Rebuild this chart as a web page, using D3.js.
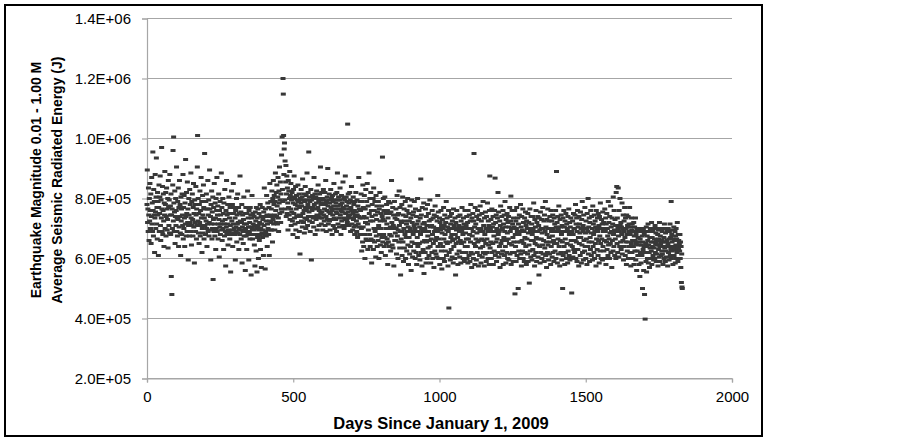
<!DOCTYPE html>
<html>
<head>
<meta charset="utf-8">
<script src="https://cdn.jsdelivr.net/npm/d3@7"></script>
<style>
  body { margin: 0; background: #fff; }
  svg { display: block; font-family: "Liberation Sans", Arial, sans-serif; }
</style>
</head>
<body>
<svg id="chart" width="902" height="440"></svg>
<script>
// energies in thousands of J, one value per day, split by year
var e2009 = [
  780,895,720,765,690,835,745,660,800,725,850,760,700,815,650,740,870,715,785,690,
  955,760,675,830,745,790,620,735,880,755,700,805,935,715,770,665,820,745,790,610,
  770,845,690,750,805,875,710,660,795,735,970,765,690,840,680,760,815,725,640,785,
  745,890,700,780,820,675,740,835,765,695,730,800,635,860,770,710,795,685,880,745,
  775,680,815,540,745,480,765,700,845,960,725,1005,785,690,755,825,650,740,800,710,
  760,905,690,735,675,790,730,835,640,770,705,860,740,780,685,610,805,725,765,680,
  815,745,710,880,665,770,700,810,735,640,785,715,930,740,675,820,750,690,855,720,
  765,595,710,800,745,675,830,720,780,690,885,735,645,790,710,815,730,675,770,850,
  705,750,585,795,720,780,690,840,745,665,765,710,905,1010,725,800,685,750,650,780,
  720,825,675,760,710,870,735,790,620,700,810,745,685,845,770,665,735,950,710,765,
  680,790,725,815,700,640,765,715,860,690,745,795,675,720,895,765,695,740,595,780,
  715,825,665,755,700,805,530,730,770,690,850,715,675,785,735,630,800,700,760,870,
  690,745,775,665,715,815,730,605,760,705,790,680,745,715,885,695,770,660,725,800,
  700,750,630,785,715,675,830,730,690,575,760,705,860,680,745,715,780,645,695,750,
  805,690,735,665,770,710,555,750,680,825,725,695,780,640,715,850,685,750,700,770,
  680,735,595,760,705,690,800,655,745,715,815,685,720,770,630,700,750,680,875,725,
  695,755,665,720,780,585,705,745,690,650,730,805,675,715,695,750,560,700,770,675,
  715,630,750,690,825,680,735,705,595,760,690,720,665,770,705,745,545,680,735,810,
  700,665,750,715,680
];
var e2010 = [
  695,740,645,710,575,755,680,725,625,770,700,555,735,670,765,710,600,695,750,660,
  720,680,780,630,700,740,570,715,685,770,670,730,695,610,755,710,835,680,740,565,
  765,690,725,675,810,745,640,715,785,700,740,680,770,610,725,850,745,695,790,720,
  765,695,825,740,655,800,730,860,715,780,810,745,695,790,885,760,720,820,740,845,
  775,715,805,870,735,690,825,785,905,750,795,855,720,815,765,945,755,1005,830,790,
  1200,1148,1010,880,965,985,795,925,765,855,910,740,815,875,750,835,785,695,860,770,
  825,745,800,890,730,810,765,850,710,795,755,820,725,805,680,785,830,750,875,735,
  800,715,780,840,695,765,810,740,795,670,775,845,720,790,745,815,690,770,615,800,
  740,785,830,725,775,805,705,865,750,795,720,815,760,685,790,735,840,770,700,810,
  760,730,885,795,710,780,820,740,955,755,805,725,790,690,770,830,740,595,795,760,
  720,810,770,735,800,705,870,780,740,815,680,765,805,730,785,825,745,695,800,770,
  845,740,790,710,760,815,735,795,905,750,780,715,820,755,735,800,695,785,830,745,
  795,725,765,820,710,780,860,740,690,790,760,805,730,900,775,715,795,755,815,725,
  785,695,750,830,770,730,800,760,680,810,745,790,710,775,850,735,795,700,765,815,
  730,785,755,690,820,750,885,795,715,775,805,735,765,705,795,835,745,780,680,760,
  810,725,785,755,710,855,770,735,800,700,765,795,730,875,750,710,805,775,730,790,
  720,1048,755,815,740,785,710,765,820,745,795,690,770,735,840,760,715,790,695,750,
  805,730,780,705,760,680,790,740,710,820,755,725,690,795,745,670,775,715,740,870,
  705,765,680,735,790
];
var e2011 = [
  760,680,815,700,625,790,735,655,845,705,770,640,740,810,680,600,765,720,830,665,
  735,790,660,850,715,630,775,695,660,885,750,680,800,640,725,820,665,760,585,740,
  780,660,725,800,630,835,700,760,655,790,690,745,605,810,675,730,775,640,755,700,
  660,790,710,600,765,680,820,725,645,750,700,620,775,670,740,938,655,730,800,680,
  760,640,725,805,670,610,750,700,650,780,715,665,760,580,735,655,790,700,640,750,
  680,785,705,625,755,675,860,720,645,700,770,635,710,745,575,705,790,660,735,685,
  660,765,700,615,730,810,675,745,600,695,750,655,825,710,635,770,690,545,725,665,
  720,780,610,690,805,655,745,590,700,765,635,725,680,790,600,740,670,715,625,760,
  690,800,645,705,580,750,670,725,615,775,700,640,735,560,690,795,655,720,605,745,
  680,755,625,710,790,650,700,600,765,690,620,740,580,715,670,800,640,725,690,610,
  760,650,705,595,735,680,865,620,745,700,575,770,655,715,630,690,785,550,720,660,
  700,620,765,690,585,740,655,710,600,780,675,635,750,690,610,725,660,795,640,705,
  585,730,665,710,620,760,680,600,735,650,705,570,745,690,625,775,660,700,615,740,
  670,605,725,690,810,640,755,600,700,665,735,580,720,650,695,760,625,710,565,685,
  730,640,700,600,770,665,710,590,745,680,625,720,655,790,610,695,735,650,705,575,
  690,760,435,620,700,655,740,595,715,670,630,750,680,605,725,660,700,585,765,640,
  710,665,600,735,680,545,720,650,695,760,615,700,670,580,740,655,710,625,690,605,
  745,660,700,585,725,650,690,770,620,705,680,600,735,655,715,590,700,760,640,685,
  620,710,665,740,600
];
var e2012 = [
  640,720,585,760,665,700,610,745,680,590,725,655,780,620,700,570,735,675,615,750,
  690,600,725,950,650,705,580,770,640,715,665,595,740,685,620,760,655,700,575,730,
  660,745,610,690,775,635,700,585,725,665,750,605,690,640,790,620,710,660,575,735,
  680,615,755,650,700,590,740,665,620,785,690,600,725,645,710,580,760,875,635,700,
  655,730,600,690,765,620,705,650,740,580,715,675,625,760,690,868,610,720,655,745,
  590,700,665,735,620,820,680,755,605,690,640,725,570,710,775,650,695,615,740,660,
  700,625,760,580,715,670,745,610,690,790,640,705,585,730,660,620,750,685,600,720,
  665,740,595,705,650,770,615,690,725,808,580,700,645,760,620,715,670,590,735,655,
  705,620,760,482,680,640,725,590,700,770,610,690,655,735,500,715,625,680,745,600,
  690,655,780,615,705,575,740,660,695,625,765,600,720,650,690,590,735,670,620,755,
  640,710,580,725,665,700,615,750,590,685,720,645,518,700,765,625,690,605,740,660,
  715,595,680,740,630,700,660,785,610,690,575,730,650,705,620,760,670,590,720,645,
  690,740,605,665,710,545,735,640,695,585,755,620,700,665,730,600,685,645,770,615,
  700,660,725,590,745,635,690,790,610,705,655,570,730,680,620,765,645,700,595,725,
  670,615,740,655,700,580,760,640,690,725,605,675,745,620,700,660,590,735,650,715,
  625,690,760,600,705,890,650,720,585,740,665,700,615,775,640,690,575,730,660,705,
  620,745,680,595,710,655,500,735,610,690,760,640,705,580,725,665,620,750,690,600,
  715,650,700,585,740,625,690,765,610,680,720,595,705,645,735,660,600,485,690,640,
  725,605,680,750,630,700
];
var e2013 = [
  700,620,745,660,780,600,715,655,735,590,690,760,630,705,670,575,740,650,715,685,
  610,755,670,700,585,730,645,790,620,690,710,595,745,660,700,625,770,640,685,600,
  725,665,700,580,750,640,690,800,615,705,655,735,590,720,670,630,760,685,610,740,
  655,700,595,775,640,715,680,620,745,600,690,725,650,705,575,760,665,700,630,735,
  690,610,750,660,710,585,740,675,625,785,650,700,600,730,665,715,595,755,640,690,
  720,625,700,660,765,600,690,735,580,715,655,750,630,700,675,610,790,645,720,665,
  600,740,685,650,775,620,705,690,570,735,660,715,625,805,680,640,760,695,610,730,
  665,710,600,820,690,840,650,735,620,700,835,675,605,760,690,640,800,710,655,720,
  630,705,680,785,615,700,660,745,595,690,725,640,770,670,610,735,655,700,580,745,
  680,625,710,655,740,600,690,715,640,770,620,680,705,575,735,650,695,620,715,660,
  600,690,640,720,580,675,705,625,660,735,595,680,650,560,700,625,690,610,670,645,
  700,580,655,690,540,665,620,700,585,645,690,610,675,500,655,630,700,560,640,680,
  480,620,398,690,650,590,705,555,640,675,600,660,715,585,645,690,620,570,670,635,
  700,600,655,625,720,580,670,640,690,610,655,595,700,635,665,600,710,620,650,685,
  590,660,700,615,645,680,575,695,630,665,605,720,640,590,675,650,700,610,660,625,
  690,615,655,580,700,640,670,600,715,635,655,590,685,625,700,605,660,640,690,575,
  650,700,620,665,595,690,640,715,610,670,630,790,600,680,655,625,695,580,665,640,
  705,610,660,630,690,585,675,645,700,600,665,620,720,640,590,680,630,660,600,650,
  625,680,600,655,570,640,520,615,505,500
];
var yearStart = [0, 365, 730, 1095, 1461];

var xTicks = [0, 500, 1000, 1500, 2000];
var yTicks = [2e5, 4e5, 6e5, 8e5, 1e6, 1.2e6, 1.4e6];

var xTitle = "Days Since January 1, 2009";
var yTitle1 = "Earthquake Magnitude 0.01 - 1.00 M";
var yTitle2 = "Average Seismic Radiated Energy (J)";

var points = [e2009, e2010, e2011, e2012, e2013].flatMap(function (arr, k) {
  return arr.map(function (v, i) { return { day: yearStart[k] + i, energy: v * 1000 }; });
});

var plotLeft = 147, plotRight = 732, plotTop = 18.5, plotBottom = 378.5;

var x = d3.scaleLinear().domain([0, 2000]).range([plotLeft, plotRight]);
var y = d3.scaleLinear().domain([2e5, 1.4e6]).range([plotBottom, plotTop]);

// 1.4E+06 style labels
function sciFmt(d) {
  var parts = d3.format(".1e")(d).split("e");
  var exp = parts[1];
  return parts[0] + "E" + exp[0] + exp.slice(1).padStart(2, "0");
}

var svg = d3.select("#chart");

// outer frame
svg.append("rect")
  .attr("x", 5).attr("y", 5)
  .attr("width", 757).attr("height", 431)
  .attr("fill", "none")
  .attr("stroke", "#000")
  .attr("stroke-width", 2);

// gridlines
svg.append("g")
  .selectAll("line")
  .data(yTicks)
  .enter()
  .append("line")
  .attr("x1", plotLeft).attr("x2", plotRight)
  .attr("y1", function (d) { return y(d); })
  .attr("y2", function (d) { return y(d); })
  .attr("stroke", "#a6a6a6")
  .attr("stroke-width", 1.2);

// y axis
var yAxis = svg.append("g")
  .attr("transform", "translate(" + plotLeft + ",0)")
  .call(d3.axisLeft(y).tickValues(yTicks).tickFormat(sciFmt).tickSize(5).tickPadding(11));
yAxis.select(".domain").attr("stroke", "#a6a6a6").attr("stroke-width", 1.2);
yAxis.selectAll(".tick line").attr("stroke", "#a6a6a6").attr("stroke-width", 1.2);
yAxis.selectAll(".tick text")
  .attr("font-size", 15)
  .attr("font-family", "'Liberation Sans', Arial, sans-serif")
  .attr("fill", "#000");

// x axis
var xAxis = svg.append("g")
  .attr("transform", "translate(0," + plotBottom + ")")
  .call(d3.axisBottom(x).tickValues(xTicks).tickFormat(d3.format("d")).tickSize(4).tickPadding(9));
xAxis.select(".domain").attr("stroke", "#a6a6a6").attr("stroke-width", 1.2);
xAxis.selectAll(".tick line").attr("stroke", "#a6a6a6").attr("stroke-width", 1.2);
xAxis.selectAll(".tick text")
  .attr("font-size", 15)
  .attr("font-family", "'Liberation Sans', Arial, sans-serif")
  .attr("fill", "#000");

// points (dash markers)
svg.append("g")
  .selectAll("rect")
  .data(points)
  .enter()
  .append("rect")
  .attr("x", function (d) { return x(d.day) - 2.5; })
  .attr("y", function (d) { return y(d.energy) - 1.5; })
  .attr("width", 5)
  .attr("height", 3)
  .attr("fill", "#383838");

// titles
svg.append("text")
  .attr("x", 441).attr("y", 429)
  .attr("text-anchor", "middle")
  .attr("font-size", 16.5)
  .attr("font-weight", "bold")
  .text(xTitle);

svg.append("text")
  .attr("transform", "translate(41,180) rotate(-90)")
  .attr("text-anchor", "middle")
  .attr("font-size", 14)
  .attr("font-weight", "bold")
  .text(yTitle1);

svg.append("text")
  .attr("transform", "translate(62,180) rotate(-90)")
  .attr("text-anchor", "middle")
  .attr("font-size", 14)
  .attr("font-weight", "bold")
  .text(yTitle2);
</script>
</body>
</html>
